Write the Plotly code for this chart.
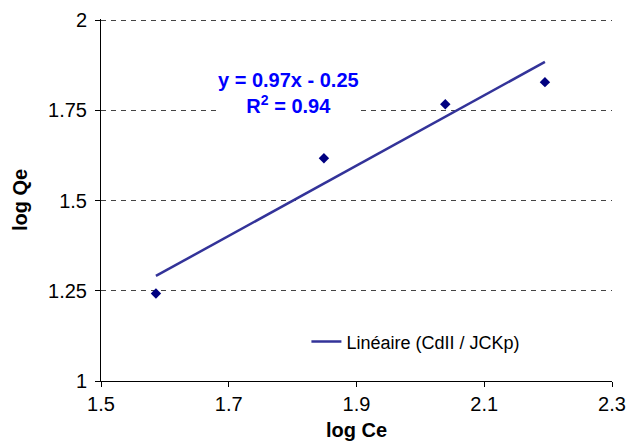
import numpy as np
import plotly.graph_objects as go

# Data
log_ce = [1.586, 1.849, 2.039, 2.195]
log_qe = [1.2425, 1.617, 1.767, 1.828]
x_ticks = [1.5, 1.7, 1.9, 2.1, 2.3]
y_ticks = [1, 1.25, 1.5, 1.75, 2]
series_name = "CdII / JCKp"

slope, intercept = np.polyfit(log_ce, log_qe, 1)
ss_res = sum((y - (slope * x + intercept)) ** 2 for x, y in zip(log_ce, log_qe))
mean_y = np.mean(log_qe)
ss_tot = sum((y - mean_y) ** 2 for y in log_qe)
r2 = 1 - ss_res / ss_tot
trend_x = [min(log_ce), max(log_ce)]
trend_y = [slope * x + intercept for x in trend_x]

FONT = "Liberation Sans, Arial, sans-serif"

fig = go.Figure()
fig.add_trace(go.Scatter(
    x=log_ce, y=log_qe, mode="markers", name=series_name, showlegend=False,
    marker=dict(symbol="diamond", size=8, color="#000080"),
))
fig.add_trace(go.Scatter(
    x=trend_x, y=trend_y, mode="lines", name=f"Linéaire ({series_name})",
    line=dict(color="#333399", width=2.5), showlegend=True,
))

fig.add_annotation(
    x=1.794, y=1.797, xref="x", yref="y", showarrow=False,
    text=f"y = {slope:.2f}x - {abs(intercept):.2f}<br>R<sup>2</sup> = {r2:.2f}",
    font=dict(family=FONT, size=20, color="#0000FF", weight="bold"),
    bgcolor="white", align="center",
)

fig.update_layout(
    width=636, height=444,
    margin=dict(l=101, r=24, t=19, b=63),
    paper_bgcolor="white", plot_bgcolor="white",
    font=dict(family=FONT, size=20, color="black"),
    legend=dict(
        x=0.402, y=0.108, xanchor="left", yanchor="middle",
        bgcolor="rgba(0,0,0,0)", font=dict(size=18, family=FONT),
        itemwidth=30,
    ),
    xaxis=dict(
        range=[1.5, 2.3], tickvals=x_ticks, ticktext=[str(t) for t in x_ticks],
        showgrid=False, zeroline=False, showline=True, linecolor="black", linewidth=1,
        ticks="outside", ticklen=5, tickcolor="black", automargin=False,
        title=dict(text="<b>log Ce</b>", font=dict(size=20, family=FONT), standoff=8),
    ),
    yaxis=dict(
        range=[1, 2.003], tickvals=y_ticks, ticktext=["1", "1.25", "1.5", "1.75", "2"],
        showgrid=True, gridcolor="#444444", griddash="5px,5px", gridwidth=1.2,
        zeroline=False, showline=True, linecolor="black", linewidth=1,
        ticks="outside", ticklen=5, tickcolor="black", automargin=False,
        ticklabelstandoff=4,
        title=dict(text="<b>log Qe</b>", font=dict(size=20, family=FONT), standoff=15),
    ),
)

fig.write_html("out.html")
